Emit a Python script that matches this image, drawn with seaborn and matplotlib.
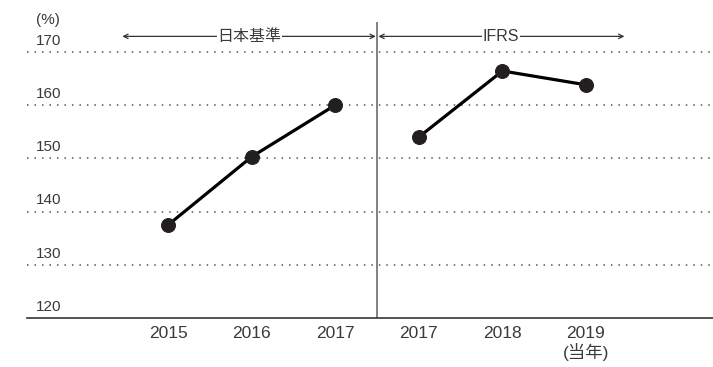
import matplotlib
matplotlib.use("Agg")
import matplotlib.pyplot as plt
import matplotlib.transforms as mtransforms
import seaborn as sns
import pandas as pd

# Data
jgaap_years = ["2015", "2016", "2017"]
jgaap_values = [137.5, 150.3, 160.0]
ifrs_years = ["2017", "2018", "2019\n(当年)"]
ifrs_values = [154.0, 166.4, 163.8]
y_ticks = [120, 130, 140, 150, 160, 170]
y_unit = "(%)"
label_jgaap = "日本基準"
label_ifrs = "IFRS"

sns.set_theme(style="white")
plt.rcParams["font.family"] = ["Liberation Sans", "Noto Sans CJK JP", "DejaVu Sans"]

text_color = "#3a3a3a"
W, H = 713, 367
fig = plt.figure(figsize=(W / 100, H / 100), dpi=100)
ax = fig.add_axes([27 / W, (H - 318) / H, (W - 27) / W, (318 - 22) / H])

n1 = len(jgaap_values)
df = pd.DataFrame({
    "pos": list(range(n1)) + list(range(n1, n1 + len(ifrs_values))),
    "value": jgaap_values + ifrs_values,
    "group": [label_jgaap] * n1 + [label_ifrs] * len(ifrs_values),
})

for g in [label_jgaap, label_ifrs]:
    sns.lineplot(data=df[df["group"] == g], x="pos", y="value", ax=ax,
                 color="black", linewidth=2.3, marker="o", markersize=10,
                 markerfacecolor="#231f20", markeredgecolor="#231f20",
                 zorder=5, legend=False)

ax.set_xlim(-1.69, 6.52)
ax.set_ylim(120, 175.6)

# dotted gridlines
for v in y_ticks[1:]:
    ax.axhline(v, color="#555555", linestyle=(0, (1, 3.9)), linewidth=1.1, zorder=1)

# y labels sitting above their gridlines
blend = mtransforms.blended_transform_factory(ax.transAxes, ax.transData)
offset = mtransforms.offset_copy(blend, fig=fig, x=0, y=3, units="points")
for v in y_ticks:
    ax.text(9 / (W - 27), v, str(v), transform=offset, ha="left", va="bottom",
            fontsize=11, color=text_color)
fig.text(36 / W, 1 - 20 / H, y_unit, ha="left", va="center", fontsize=11,
         color=text_color)

# x tick labels
ax.set_xticks(df["pos"])
ax.set_xticklabels(jgaap_years + ifrs_years, fontsize=12.5, color=text_color,
                   linespacing=1.1)
ax.tick_params(axis="x", length=0, pad=6)
ax.set_yticks([])
ax.set_xlabel("")
ax.set_ylabel("")

for s in ["top", "right", "left"]:
    ax.spines[s].set_visible(False)
ax.spines["bottom"].set_color("#3a3434")
ax.spines["bottom"].set_linewidth(1.2)

# separator between accounting standards
sep = n1 - 0.5
ax.axvline(sep, ymin=0, ymax=1, color="#777777", linewidth=1.3, zorder=2)

# range arrows with labels
arrow_y = 172.9
arrow_kw = dict(arrowstyle="<->", color="#333333", lw=0.9,
                mutation_scale=8, shrinkA=0, shrinkB=0)
ax.annotate("", xy=(-0.55, arrow_y), xytext=(sep - 0.015, arrow_y),
            arrowprops=arrow_kw, annotation_clip=False)
ax.annotate("", xy=(sep + 0.015, arrow_y), xytext=(5.46, arrow_y),
            arrowprops=arrow_kw, annotation_clip=False)
bbox = dict(facecolor="white", edgecolor="none", pad=0.5)
ax.text((-0.55 + sep) / 2, arrow_y, label_jgaap, ha="center", va="center",
        fontsize=11.5, color=text_color, bbox=bbox, zorder=6)
ax.text((sep + 5.46) / 2, arrow_y, label_ifrs, ha="center", va="center",
        fontsize=11.5, color=text_color, bbox=bbox, zorder=6)

fig.savefig("out.png", dpi=100)
